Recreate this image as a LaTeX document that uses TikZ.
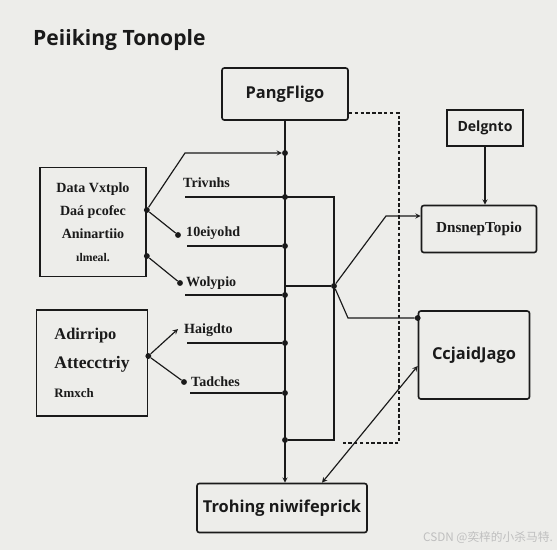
\documentclass[tikz,border=0pt]{standalone}
\usepackage{fontspec}
\setmainfont{Liberation Serif}
\newfontfamily\sansfont{Open Sans}
\newfontfamily\cjkfont{Noto Sans CJK SC}
\definecolor{paper}{HTML}{EDEDEA}
\definecolor{ink}{HTML}{1A1A1A}

\begin{document}
\begin{tikzpicture}[
    x=0.03cm, y=-0.03cm,
    box/.style={draw=ink, line width=1.4pt, rectangle, rounded corners=2pt,
                inner sep=0pt, align=center, text=ink},
    sbox/.style={box, rounded corners=0pt},
    wire/.style={draw=ink, line width=1pt},
    arr/.style={->, wire, >=stealth},
    dashwire/.style={wire, densely dashed},
    dot/.style={circle, fill=ink, inner sep=0pt, minimum size=5pt},
    lbl/.style={anchor=west, inner sep=0pt, text=ink,
                font=\fontsize{12}{12}\selectfont\bfseries}
]

% Hintergrund
\fill[paper] (0,0) rectangle (557,550);
\useasboundingbox (0,0) rectangle (557,550);

% Titel
\node[anchor=west, inner sep=0pt, text=ink,
      font=\sansfont\fontsize{18}{20}\selectfont\bfseries] (title) at (33,40) {Peiiking Tonople};

% Kaesten
\node[box, minimum width=3.78cm, minimum height=1.56cm,
      font=\sansfont\fontsize{14}{16}\selectfont\bfseries] (plan) at (285,94) {PangFligo};
\node[sbox, minimum width=3.18cm, minimum height=3.27cm,
      font=\fontsize{12}{19.5}\selectfont\bfseries] (src) at (93,222)
    {Data Vxtplo\\Daá pcofec\\Aninartiio\\{\fontsize{10}{10}\selectfont ılmeal.}};
\node[sbox, minimum width=3.33cm, minimum height=3.18cm, align=left,
      font=\fontsize{13}{25}\selectfont\bfseries] (act) at (92,363)
    {{\fontsize{14}{14}\selectfont Adirripo}\\
     {\fontsize{15}{15}\selectfont Attecctriy}\\
     {\fontsize{11}{11}\selectfont Rmxch}};
\node[sbox, minimum width=2.28cm, minimum height=1.08cm,
      font=\sansfont\fontsize{12}{14}\selectfont\bfseries] (dsg) at (485,128) {Delgnto};
\node[box, minimum width=3.45cm, minimum height=1.41cm,
      font=\fontsize{13}{15}\selectfont\bfseries] (tpl) at (479,229) {DnsnepTopio};
\node[box, minimum width=3.33cm, minimum height=2.64cm,
      font=\sansfont\fontsize{14}{16}\selectfont\bfseries] (cfg) at (474,355) {CcjaidJago};
\node[box, minimum width=5.1cm, minimum height=1.47cm,
      font=\sansfont\fontsize{14}{16}\selectfont\bfseries] (out) at (282,508) {Trohing niwifeprick};

% Punkte auf der Hauptlinie
\foreach \n/\y in {a/153, b/197, c/246, d/295, e/343, f/393, g/440} {
    \node[dot] (t\n) at (285,\y) {};
}
\coordinate (tr) at (285,286);

% Hauptlinie
\draw[arr] (plan.south) -- (plan.south |- out.north);

% linke Beschriftungen
\node[lbl] (l1) at (183,183) {Trivnhs};
\node[lbl] (l2) at (186,233) {10eiyohd};
\node[lbl] (l3) at (186,283) {Wolypio};
\node[lbl] (l4) at (184,330) {Haigdto};
\node[lbl] (l5) at (191,382) {Tadches};

% Abzweige aus den linken Kaesten
\node[dot] (s1) at (src.east |- 0,210) {};
\node[dot] (s2) at (src.east |- 0,256) {};
\node[dot] (s3) at (act.east |- 0,356) {};
\node[dot] (d2) at (178,235) {};
\node[dot] (d3) at (180,283) {};
\node[dot] (d5) at (184,382) {};
\coordinate (k1) at (185,153);
\coordinate (h4) at (178,329);

\draw[arr] (s1) -- (k1) -- (ta);
\draw[wire] (s1) -- (d2);
\draw[wire] (s2) -- (d3);
\draw[arr] (s3) -- (h4);
\draw[wire] (s3) -- (d5);

% waagrechte Linien zur Hauptlinie
\coordinate (hc) at (187,246);
\coordinate (hd) at (185,295);
\coordinate (he) at (187,343);
\coordinate (hf) at (190,393);
\draw[wire] (hc) -- (tc);
\draw[wire] (hd) -- (td);
\draw[wire] (he) -- (te);
\draw[wire] (hf) -- (tf);

% Schleife rechts der Hauptlinie
\coordinate (hb) at (185,197);
\draw[wire] (hb) -- (334,197) -- (334,440) -- (tg);

% gestrichelte Linie vom oberen Kasten
\coordinate (q1) at (343,443);
\draw[dashwire] (plan.east |- 0,113) -- (399,113) -- (399,443) -- (q1);

% rechte Abzweige
\node[dot] (r0) at (334,286) {};
\draw[wire] (tr) -- (r0);
\draw[arr] (r0) -- (386,216) -- (tpl.west |- 0,216);
\node[dot] (c1) at (cfg.west |- 0,318) {};
\draw[wire] (r0) -- (348,318) -- (c1);
\coordinate (c2) at (cfg.west |- 0,366);
\draw[<->, wire, >=stealth] (c2) -- (out.north -| 322,0);

% Delgnto -> DnsnepTopio
\draw[arr] (dsg.south) -- (dsg.south |- tpl.north);

% Wasserzeichen
\node[anchor=east, inner sep=0pt, text=black!25,
      font=\cjkfont\fontsize{10}{11}\selectfont] (mark) at (553,538) {CSDN @奕梓的小杀马特.};

\end{tikzpicture}
\end{document}
